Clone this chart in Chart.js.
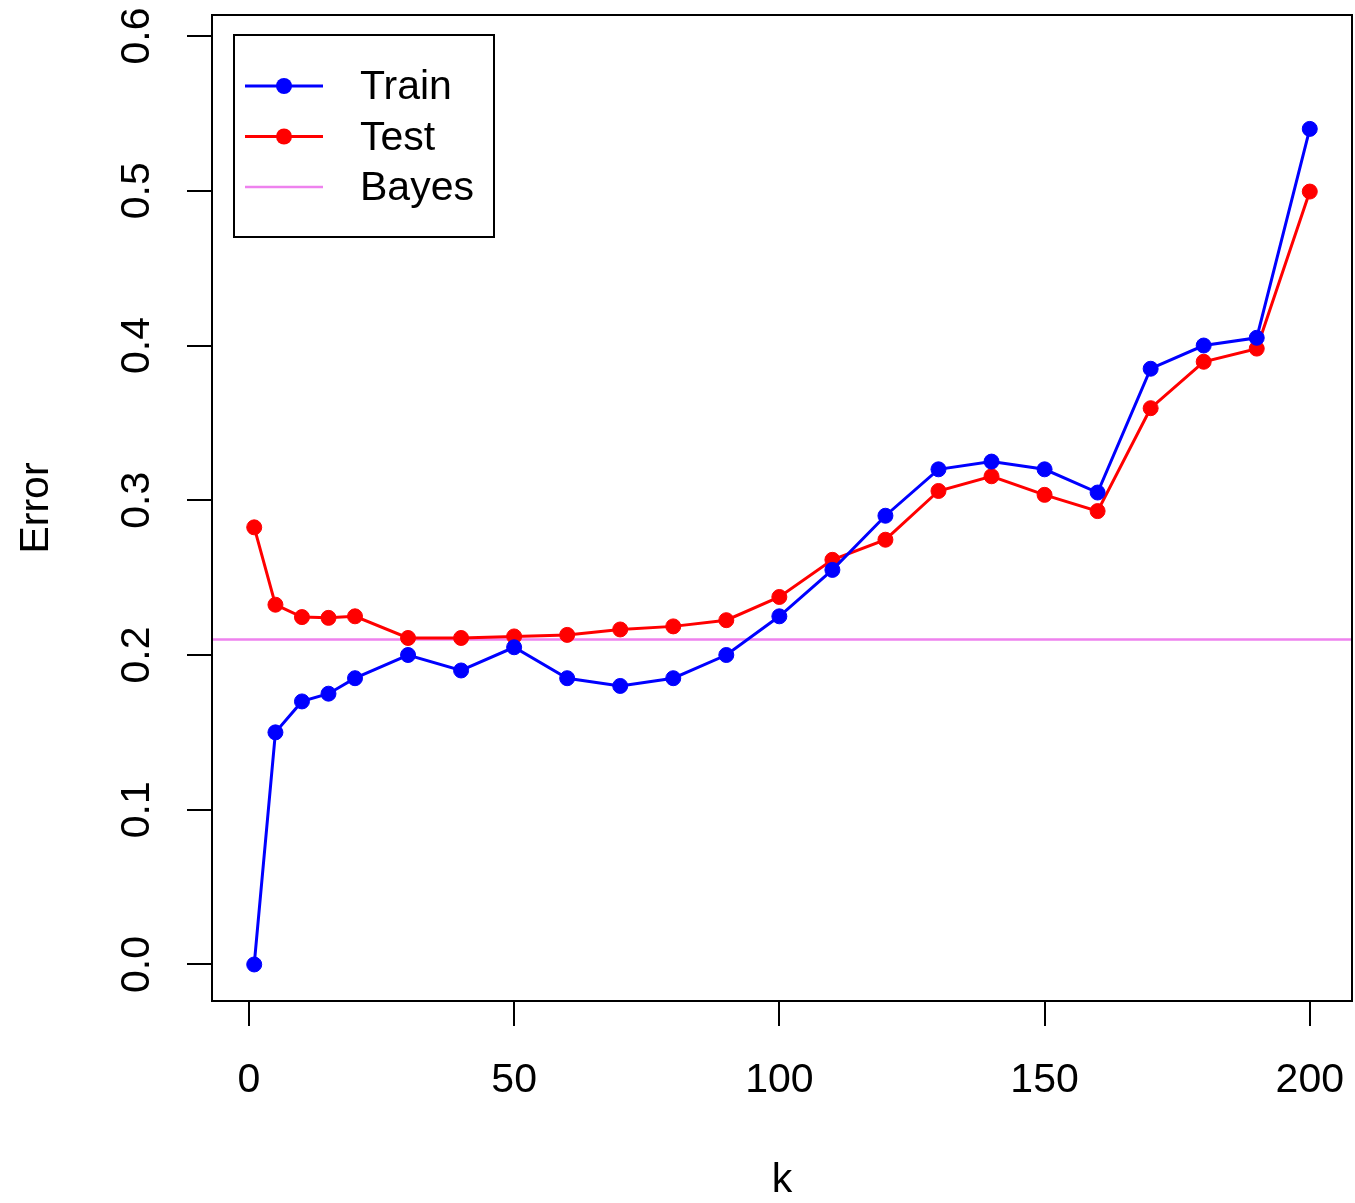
<!DOCTYPE html>
<html>
<head>
<meta charset="utf-8">
<title>Error vs k</title>
<script src="https://cdn.jsdelivr.net/npm/chart.js@4.4.1/dist/chart.umd.min.js"></script>
<style>
  html, body { margin: 0; padding: 0; background: #fff; }
  #wrap { width: 1355px; height: 1203px; position: relative; }
</style>
</head>
<body>
<div id="wrap"><canvas id="errChart"></canvas></div>
<script>
// neighbourhood size and error rates
const kValues = [1, 5, 10, 15, 20, 30, 40, 50, 60, 70, 80, 90, 100, 110, 120, 130, 140, 150, 160, 170, 180, 190, 200];
const trainError = [0.000, 0.150, 0.170, 0.175, 0.185, 0.200, 0.190, 0.205, 0.185, 0.180, 0.185, 0.200,
                    0.225, 0.255, 0.290, 0.320, 0.325, 0.320, 0.305, 0.385, 0.400, 0.405, 0.540];
const testError = [0.2825, 0.2325, 0.2245, 0.2240, 0.2250, 0.2110, 0.2110, 0.2120, 0.2130, 0.2165, 0.2185, 0.2225,
                   0.2375, 0.2615, 0.2745, 0.3060, 0.3155, 0.3035, 0.2930, 0.3595, 0.3895, 0.3980, 0.4995];
const bayesError = 0.21;
const seriesNames = ['Train', 'Test', 'Bayes'];
const xTicks = [0, 50, 100, 150, 200];
const yTicks = [0.0, 0.1, 0.2, 0.3, 0.4, 0.5, 0.6];

// R-style limits: data range widened by 4% on each side
const xMin = 1 - 0.04 * 199, xMax = 200 + 0.04 * 199;
const yMin = -0.04 * 0.59, yMax = 0.59 * 1.04;

const FONT_FAMILY = "'Liberation Sans', Arial, Helvetica, sans-serif";
const FONT = '41px ' + FONT_FAMILY;
const colors = ['#0000ff', '#ff0000', '#ee82ee'];

const toPoints = ys => kValues.map((k, i) => ({ x: k, y: ys[i] }));

// frame, rotated y labels, axis titles and an R-like legend
const basePlotExtras = {
  id: 'basePlotExtras',
  afterDraw(chart) {
    const { ctx, chartArea: a, scales } = chart;
    ctx.save();
    ctx.strokeStyle = '#000';
    ctx.lineWidth = 2;
    ctx.strokeRect(a.left, a.top, a.right - a.left, a.bottom - a.top);

    ctx.fillStyle = '#000';
    ctx.font = FONT;
    ctx.textAlign = 'center';
    ctx.textBaseline = 'middle';
    scales.y.ticks.forEach(t => {
      const py = scales.y.getPixelForValue(t.value);
      ctx.save();
      ctx.translate(138, py);
      ctx.rotate(-Math.PI / 2);
      ctx.fillText(t.value.toFixed(1), 0, 0);
      ctx.restore();
    });

    // axis titles
    ctx.fillText('k', (a.left + a.right) / 2, 1181);
    ctx.save();
    ctx.translate(37, (a.top + a.bottom) / 2);
    ctx.rotate(-Math.PI / 2);
    ctx.fillText('Error', 0, 0);
    ctx.restore();

    // legend
    const lx = 234, ly = 35, lw = 260, lh = 202;
    ctx.fillStyle = '#fff';
    ctx.fillRect(lx, ly, lw, lh);
    ctx.strokeStyle = '#000';
    ctx.lineWidth = 2;
    ctx.strokeRect(lx, ly, lw, lh);
    ctx.textAlign = 'left';
    chart.data.datasets.forEach((ds, i) => {
      const ry = ly + 51 + i * 50.5;
      ctx.strokeStyle = ds.borderColor;
      ctx.lineWidth = ds.borderWidth;
      ctx.beginPath();
      ctx.moveTo(lx + 11, ry);
      ctx.lineTo(lx + 89, ry);
      ctx.stroke();
      if (ds.pointRadius > 0) {
        ctx.fillStyle = ds.borderColor;
        ctx.beginPath();
        ctx.arc(lx + 50, ry, ds.pointRadius + 0.5, 0, Math.PI * 2);
        ctx.fill();
      }
      ctx.fillStyle = '#000';
      ctx.fillText(ds.label, lx + 126, ry + 2);
    });
    ctx.restore();
  }
};

const ctx = document.getElementById('errChart').getContext('2d');
new Chart(ctx, {
  type: 'line',
  data: {
    datasets: [
      {
        label: seriesNames[0],
        data: toPoints(trainError),
        borderColor: colors[0],
        backgroundColor: colors[0],
        borderWidth: 3,
        pointRadius: 7.5,
        pointBorderWidth: 1,
        tension: 0,
        fill: false,
      },
      {
        label: seriesNames[1],
        data: toPoints(testError),
        borderColor: colors[1],
        backgroundColor: colors[1],
        borderWidth: 3,
        pointRadius: 7.5,
        pointBorderWidth: 1,
        tension: 0,
        fill: false,
      },
      {
        label: seriesNames[2],
        data: [{ x: xMin, y: bayesError }, { x: xMax, y: bayesError }],
        borderColor: colors[2],
        backgroundColor: colors[2],
        borderWidth: 2.5,
        pointRadius: 0,
        tension: 0,
        fill: false,
      },
    ],
  },
  options: {
    responsive: true,
    maintainAspectRatio: false,
    animation: false,
    events: [],
    layout: { autoPadding: false, padding: { left: 0, top: 15, right: 3, bottom: 0 } },
    plugins: {
      legend: { display: false },
      tooltip: { enabled: false },
    },
    scales: {
      x: {
        type: 'linear',
        min: xMin,
        max: xMax,
        afterBuildTicks: scale => { scale.ticks = xTicks.map(v => ({ value: v })); },
        afterFit: scale => {
          scale.height = 202;
          scale.paddingLeft = 0;
          scale.paddingRight = 0;
        },
        ticks: {
          autoSkip: false,
          maxRotation: 0,
          padding: 30,
          color: '#000',
          font: { family: FONT_FAMILY, size: 41 },
          callback: v => String(v),
        },
        grid: { drawOnChartArea: false, drawTicks: true, tickLength: 25, color: '#000', lineWidth: 2 },
        border: { display: true, color: '#000', width: 2 },
      },
      y: {
        type: 'linear',
        min: yMin,
        max: yMax,
        afterBuildTicks: scale => { scale.ticks = yTicks.map(v => ({ value: v })); },
        afterFit: scale => {
          scale.width = 212;
          scale.paddingTop = 0;
          scale.paddingBottom = 0;
        },
        ticks: { display: false },
        grid: { drawOnChartArea: false, drawTicks: true, tickLength: 25, color: '#000', lineWidth: 2 },
        border: { display: true, color: '#000', width: 2 },
      },
    },
  },
  plugins: [basePlotExtras],
});
</script>
</body>
</html>
